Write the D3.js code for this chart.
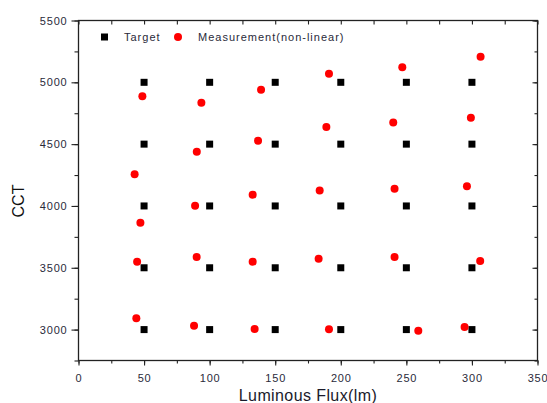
<!DOCTYPE html>
<html><head><meta charset="utf-8">
<script src="https://cdn.jsdelivr.net/npm/d3@7"></script>
<style>body{margin:0;background:#fff}svg{display:block;font-family:"Liberation Sans",Arial,sans-serif}</style>
</head><body><svg id="c" width="547" height="403"></svg>
<script>
const targetX = [50,100,150,200,250,300];
const targetY = [3000,3500,4000,4500,5000];
const measX = [48.7,93.7,139.2,191,246.9,306.6, 42.8,90.2,136.9,189,240,299.2, 47.2,88.9,132.8,183.9,241,296.2, 44.7,90.1,132.8,183.1,241,306.3, 44.1,88.1,134.3,191,259.1,294.4];
const measY = [4888,4835,4940,5070,5121,5207, 4256,4439,4528,4638,4676,4714, 3864,4002,4091,4126,4139,4159, 3549,3587,3549,3573,3587,3554, 3091,3031,3004,3002,2990,3020];
const xTicks = [0,50,100,150,200,250,300,350];
const yTicks = [3000,3500,4000,4500,5000,5500];
const legendLabels = ["Target","Measurement(non-linear)"];

const svg = d3.select("#c");
const L=78.5,R=537.5,T=20.5,B=360.5;
const x = d3.scaleLinear().domain([0,350]).range([L,R]);
const y = d3.scaleLinear().domain([2750,5500]).range([B,T]);
const axisColor="#222";
const xMinor = d3.range(0,351,25), yMinor = d3.range(2750,5501,250);
const fmt = d3.format("d");

function styleAxis(g){g.selectAll("path").attr("stroke",axisColor).attr("stroke-width",1.3);g.selectAll("line").attr("stroke",axisColor).attr("stroke-width",1.1);g.selectAll("text").attr("fill","#2a2a3a").style("font-size","11px").style("letter-spacing","0.8px");}

// bottom minor + major
svg.append("g").attr("transform",`translate(0,${B})`).call(d3.axisBottom(x).tickValues(xMinor).tickSize(3).tickFormat("")).call(styleAxis);
svg.append("g").attr("transform",`translate(0,${B})`).call(d3.axisBottom(x).tickValues(xTicks).tickSize(5).tickPadding(9).tickFormat(fmt)).call(styleAxis);
// top
svg.append("g").attr("transform",`translate(0,${T})`).call(d3.axisBottom(x).tickValues(xMinor).tickSize(4).tickFormat("")).call(styleAxis);
// left
svg.append("g").attr("transform",`translate(${L},0)`).call(d3.axisLeft(y).tickValues(yMinor).tickSize(4).tickFormat("")).call(styleAxis);
svg.append("g").attr("transform",`translate(${L},0)`).call(d3.axisLeft(y).tickValues(yTicks).tickSize(7).tickPadding(4).tickFormat(fmt)).call(styleAxis);
// right
svg.append("g").attr("transform",`translate(${R},0)`).call(d3.axisLeft(y).tickValues(yMinor).tickSize(3).tickFormat("")).call(styleAxis);
svg.append("g").attr("transform",`translate(${R},0)`).call(d3.axisLeft(y).tickValues(yTicks).tickSize(5).tickFormat("")).call(styleAxis);
svg.selectAll(".domain").remove();
svg.append("rect").attr("x",L).attr("y",T).attr("width",R-L).attr("height",B-T).attr("fill","none").attr("stroke",axisColor).attr("stroke-width",1.3);

// targets
const tgt = [];
targetY.forEach(ty=>targetX.forEach(tx=>tgt.push([tx,ty])));
svg.append("g").selectAll("rect").data(tgt).join("rect")
 .attr("x",d=>x(d[0])-3.5).attr("y",d=>y(d[1])-3.5).attr("width",7).attr("height",7).attr("fill","#000");
// measurements
svg.append("g").selectAll("circle").data(measX.map((v,i)=>[v,measY[i]])).join("circle")
 .attr("cx",d=>x(d[0])).attr("cy",d=>y(d[1])).attr("r",4).attr("fill","#ff0000");

// legend
svg.append("rect").attr("x",101).attr("y",33.5).attr("width",7).attr("height",7).attr("fill","#000");
svg.append("text").attr("x",124).attr("y",41).text(legendLabels[0]).attr("fill","#2a2a3a").style("font-size","11px").style("letter-spacing","1px");
svg.append("circle").attr("cx",178).attr("cy",37).attr("r",4).attr("fill","#ff0000");
svg.append("text").attr("x",198).attr("y",41).text(legendLabels[1]).attr("fill","#2a2a3a").style("font-size","11px").style("letter-spacing","1px");

// axis titles
svg.append("text").attr("x",308).attr("y",400.5).attr("text-anchor","middle").text("Luminous Flux(lm)").attr("fill","#1a1a2a").style("font-size","16px").style("letter-spacing","0.4px");
svg.append("text").attr("transform","translate(23.5,201) rotate(-90)").attr("text-anchor","middle").text("CCT").attr("fill","#111").style("font-size","16px");
</script></body></html>
